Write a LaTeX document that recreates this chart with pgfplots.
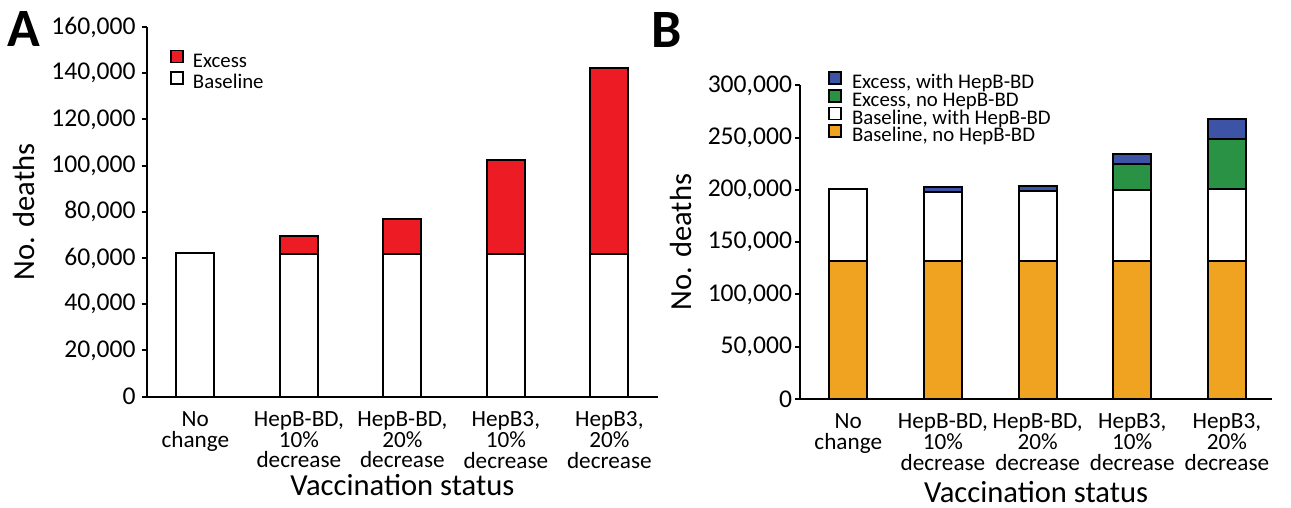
\documentclass[border=0pt]{standalone}
\usepackage{fontspec}
\setmainfont{Carlito}
\usepackage{pgfplots}
\pgfplotsset{compat=1.18}

\definecolor{exred}{RGB}{237,28,36}
\definecolor{exblue}{RGB}{61,83,165}
\definecolor{exgreen}{RGB}{42,146,69}
\definecolor{baseorange}{RGB}{240,163,33}

\pgfplotsset{
  sq/.style={legend image code/.code={\draw[##1,line width=0.8pt] (0pt,0pt) rectangle (6pt,6pt);}},
  panel/.style={
    scale only axis,
    ybar stacked,
    bar width=19pt,
    enlargelimits=false,
    ymin=0,
    axis x line*=bottom,
    axis y line*=left,
    axis line style={line width=1.1pt, black},
    tick align=outside,
    major tick length=2.5pt,
    ytick style={line width=1pt, black},
    xtick style={draw=none},
    xtick={0,1,2,3,4},
    xticklabels={{No\\change},{HepB-BD,\\10\%\\decrease},{HepB-BD,\\20\%\\decrease},{HepB3,\\10\%\\decrease},{HepB3,\\20\%\\decrease}},
    xticklabel style={align=center, font=\fontsize{11.6}{10.4}\selectfont, inner sep=0pt, anchor=north, yshift=-4.65pt},
    yticklabel style={font=\fontsize{12.8}{14}\selectfont, inner sep=0pt},
    /pgf/number format/fixed,
    /pgf/number format/assume math mode=true,
    /pgf/number format/1000 sep={,},
    scaled y ticks=false,
    label style={font=\fontsize{15.3}{17}\selectfont, inner sep=0pt},
    xlabel={Vaccination status},
    ylabel={No. deaths},
    legend cell align=left,
    reverse legend,
    legend style={draw=none, fill=none, inner sep=0pt, anchor=north west,
      font=\fontsize{10.4}{11}\selectfont, column sep=0pt},
  },
}

\begin{document}
\begin{tikzpicture}
\path[use as bounding box] (0,0) rectangle (645.5pt,254pt);

% Panel A
\begin{axis}[panel,
  at={(73.35pt,55.65pt)}, anchor=south west,
  width=255.65pt, height=184.85pt,
  xmin=-0.47, xmax=4.47,
  ymax=160000,
  ytick={0,20000,...,160000},
  yticklabel style={xshift=-2.85pt},
  xlabel style={at={(axis description cs:0.5,-0.2659)}, anchor=base},
  ylabel style={at={(axis description cs:-0.2185,0.5)}, anchor=base},
  legend style={at={(axis description cs:0,1)}, xshift=11.65pt, yshift=-11.25pt,
    nodes={inner sep=0pt, text height=7.5pt, text depth=3pt}, row sep=-1pt},
]
\addplot[fill=white, draw=black, line width=1pt, sq] coordinates {
  (0,62300) (1,61900) (2,61900) (3,61900) (4,61900)};
\addlegendentry{\hspace{4.5pt}Baseline}
\addplot[fill=exred, draw=black, line width=1pt, sq] coordinates {
  (0,0) (1,7700) (2,14800) (3,40500) (4,80500)};
\addlegendentry{\hspace{4.5pt}Excess}
\draw[gray!70, line width=1pt] ([yshift=-1pt]axis cs:0.5,0) -- ([yshift=-1pt]axis cs:2.5,0);
\end{axis}

% Panel B
\begin{axis}[panel,
  at={(400pt,54.5pt)}, anchor=south west,
  width=236.15pt, height=156.75pt,
  xmin=-0.51, xmax=4.48,
  ymax=300000,
  ytick={0,50000,...,300000},
  yticklabel style={xshift=-1.3pt},
  xlabel style={at={(axis description cs:0.5,-0.3317)}, anchor=base},
  ylabel style={at={(axis description cs:-0.2287,0.5)}, anchor=base},
  legend style={at={(axis description cs:0,1)}, xshift=14pt, yshift=7.2pt,
    nodes={inner sep=0pt, text height=7pt, text depth=2.35pt}, row sep=-2.3pt},
]
\addplot[fill=baseorange, draw=black, line width=1pt, sq] coordinates {
  (0,132300) (1,131800) (2,132000) (3,132300) (4,132300)};
\addlegendentry{\hspace{5pt}Baseline, no HepB-BD}
\addplot[fill=white, draw=black, line width=1pt, sq] coordinates {
  (0,68200) (1,66500) (2,67300) (3,67900) (4,68200)};
\addlegendentry{\hspace{5pt}Baseline, with HepB-BD}
\addplot[fill=exgreen, draw=black, line width=1pt, sq] coordinates {
  (0,0) (1,0) (2,0) (3,24700) (4,48300)};
\addlegendentry{\hspace{5pt}Excess, no HepB-BD}
\addplot[fill=exblue, draw=black, line width=1pt, sq] coordinates {
  (0,0) (1,4300) (2,4600) (3,9600) (4,18900)};
\addlegendentry{\hspace{5pt}Excess, with HepB-BD}
\end{axis}

\node[anchor=base west, inner sep=0pt, font=\fontsize{27}{30}\selectfont\bfseries] at (3.5pt,230.5pt) {A};
\node[anchor=base west, inner sep=0pt, font=\fontsize{27}{30}\selectfont\bfseries] at (325.5pt,230pt) {B};
\end{tikzpicture}
\end{document}
